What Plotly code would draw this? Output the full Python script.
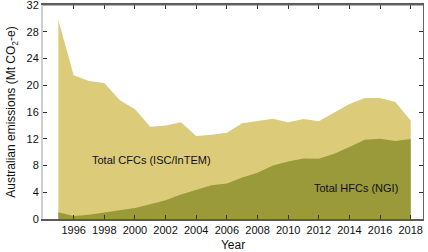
import plotly.graph_objects as go

years = list(range(1995, 2019))
total = [29.8, 21.5, 20.65, 20.35, 17.8, 16.4, 13.8, 14.0, 14.45, 12.4, 12.6, 12.9,
         14.3, 14.7, 15.0, 14.46, 14.95, 14.6, 15.95, 17.2, 18.1, 18.1, 17.5, 14.7]
hfc = [1.0, 0.45, 0.65, 0.95, 1.35, 1.65, 2.2, 2.8, 3.65, 4.4, 5.05, 5.3,
       6.2, 6.9, 8.0, 8.6, 9.05, 9.0, 9.75, 10.75, 11.85, 12.0, 11.65, 11.95]
xticks = list(range(1996, 2019, 2))
yticks = list(range(0, 33, 4))

light = "#DCCC79"
dark = "#9A9A3B"
font = "Liberation Sans, Arial, sans-serif"

fig = go.Figure()
fig.add_trace(go.Scatter(x=years, y=total, mode="lines", line=dict(width=0, color=light),
                         fill="tozeroy", fillcolor=light, hoverinfo="skip"))
fig.add_trace(go.Scatter(x=years, y=hfc, mode="lines", line=dict(width=0, color=dark),
                         fill="tozeroy", fillcolor=dark, hoverinfo="skip"))
# invisible trace that activates the mirrored right axis
fig.add_trace(go.Scatter(x=[years[0]], y=[0], xaxis="x", yaxis="y2", mode="markers",
                         marker=dict(opacity=0), hoverinfo="skip"))

xr = [1994.0, 2018.8]
yr = [0, 32]

fig.update_layout(
    width=428, height=252,
    margin=dict(l=43, r=5, t=5, b=33, autoexpand=False),
    plot_bgcolor="white", paper_bgcolor="white",
    showlegend=False,
    font=dict(family=font, size=11, color="#111"),
    xaxis=dict(range=xr, tickvals=xticks, ticks="inside", ticklen=4, tickcolor="#333",
               showline=True, linecolor="#5a5a5a", linewidth=1.6, mirror="ticks",
               showgrid=False, zeroline=False,
               automargin=False, ticklabeloverflow="allow",
               title=dict(text="Year", font=dict(size=12), standoff=9),
               tickfont=dict(size=11)),
    yaxis=dict(range=yr, tickvals=yticks, ticks="inside", ticklen=4, tickcolor="#333",
               showline=True, linecolor="#cfcfcf", linewidth=2, showgrid=False, zeroline=False,
               automargin=False, ticklabeloverflow="allow",
               title=dict(text="Australian emissions (Mt CO<sub>2</sub>-e)", font=dict(size=12), standoff=8),
               tickfont=dict(size=11)),
    yaxis2=dict(range=yr, tickvals=yticks, ticks="inside", ticklen=4, tickcolor="#333",
                showline=True, linecolor="#666", linewidth=1.2, showgrid=False, zeroline=False,
                overlaying="y", side="right", showticklabels=False, anchor="x", automargin=False),
    shapes=[dict(type="line", xref="paper", yref="paper", x0=0, x1=1, y0=1, y1=1,
                 line=dict(color="#666", width=1.2), layer="above")],
    annotations=[
        dict(x=2001.1, y=8.8, text="Total CFCs (ISC/InTEM)", showarrow=False,
             font=dict(size=11, color="#111")),
        dict(x=2014.4, y=4.7, text="Total HFCs (NGI)", showarrow=False,
             font=dict(size=11, color="#111")),
    ],
)

fig.write_html("out.html", config={"displayModeBar": False},
               post_script="document.body.style.margin='0';")
